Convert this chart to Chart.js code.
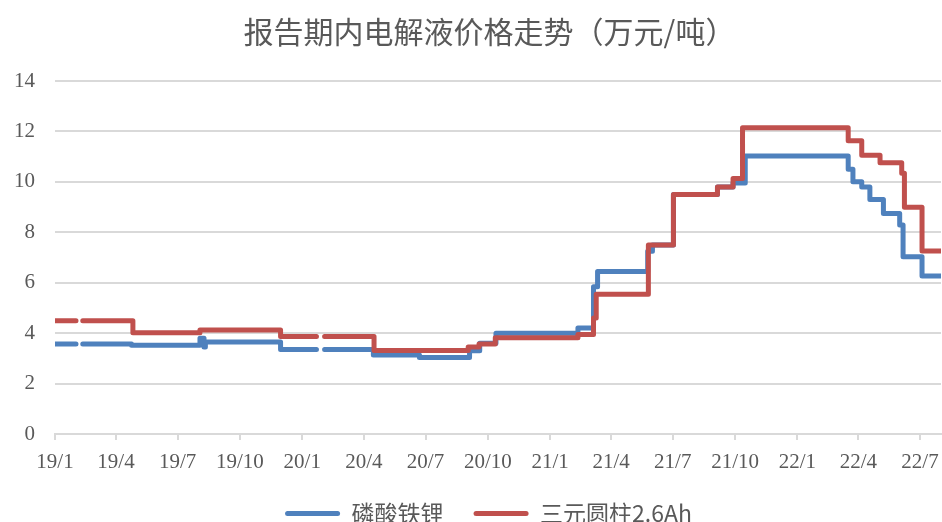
<!DOCTYPE html>
<html>
<head>
<meta charset="utf-8">
<script src="https://cdn.jsdelivr.net/npm/chart.js@4.4.1/dist/chart.umd.min.js"></script>
<style>
  html, body { margin: 0; padding: 0; background: #ffffff; }
  #wrap { width: 942px; height: 522px; position: relative; }
</style>
</head>
<body>
<div id="wrap"><canvas id="c" width="942" height="522"></canvas></div>
<script>
// ---- data ----
const chartTitle = '报告期内电解液价格走势（万元/吨）';
const seriesNames = ['磷酸铁锂', '三元圆柱2.6Ah'];

const tickDates = ['2019-01-01','2019-04-01','2019-07-01','2019-10-01','2020-01-01','2020-04-01','2020-07-01','2020-10-01','2021-01-01','2021-04-01','2021-07-01','2021-10-01','2022-01-01','2022-04-01','2022-07-01'];
const tickLabels = ['19/1','19/4','19/7','19/10','20/1','20/4','20/7','20/10','21/1','21/4','21/7','21/10','22/1','22/4','22/7'];
const axisStart = '2019-01-01';
const axisEnd = '2022-08-01';

// 磷酸铁锂: price change dates and new values (null = missing data / gap)
const lfpDates = ['2019-01-01','2019-02-01','2019-02-06','2019-02-11','2019-04-24','2019-08-03','2019-08-09','2019-08-11','2019-11-30','2020-01-22','2020-01-28','2020-02-03','2020-04-15','2020-06-22','2020-09-04','2020-09-19','2020-10-13','2021-02-11','2021-03-06','2021-03-12','2021-05-25','2021-06-01','2021-07-02','2021-09-05','2021-09-28','2021-10-16','2022-03-17','2022-03-24','2022-04-06','2022-04-18','2022-05-08','2022-06-01','2022-06-06','2022-07-04','2022-08-01'];
const lfpValues = [3.57, 3.57, null, 3.57, 3.52, 3.8, 3.45, 3.65, 3.35, 3.35, null, 3.35, 3.13, 3.03, 3.3, 3.6, 4.0, 4.2, 5.84, 6.44, 7.25, 7.5, 9.5, 9.8, 9.95, 11.03, 10.5, 10.0, 9.8, 9.3, 8.75, 8.29, 7.03, 6.27, 6.27];

// 三元圆柱2.6Ah
const nmcDates = ['2019-01-01','2019-02-01','2019-02-06','2019-02-11','2019-04-26','2019-08-03','2019-11-30','2020-01-22','2020-01-28','2020-02-03','2020-04-16','2020-09-02','2020-09-18','2020-10-12','2021-02-11','2021-03-06','2021-03-10','2021-05-26','2021-07-02','2021-09-05','2021-09-28','2021-10-12','2022-03-17','2022-04-06','2022-05-03','2022-06-04','2022-06-08','2022-07-04','2022-08-01'];
const nmcValues = [4.49, 4.49, null, 4.49, 4.02, 4.12, 3.87, 3.87, null, 3.87, 3.31, 3.45, 3.57, 3.82, 3.95, 4.6, 5.54, 7.5, 9.5, 9.8, 10.13, 12.15, 11.63, 11.06, 10.76, 10.34, 8.99, 7.26, 7.26];

const yMin = 0, yMax = 14, yStep = 2;

// ---- helpers ----
function dayOf(s) {
  const [y, m, d] = s.split('-').map(Number);
  const [y0, m0, d0] = axisStart.split('-').map(Number);
  return Math.round((Date.UTC(y, m - 1, d) - Date.UTC(y0, m0 - 1, d0)) / 86400000);
}
function toPoints(dates, values) {
  return dates.map((d, i) => ({ x: dayOf(d), y: values[i] }));
}
const tickDays = tickDates.map(dayOf);

const BLUE = '#4F81BD';
const RED = '#C0504D';
const GRID = '#d9d9d9';
const TEXT = '#595959';
const FONT = "'Liberation Serif', 'Noto Sans CJK SC', serif";

Chart.defaults.font.family = FONT;
Chart.defaults.color = TEXT;

// nudge title and legend blocks horizontally to match the reference placement
const shiftBlocks = {
  id: 'shiftBlocks',
  afterLayout(chart) {
    if (chart.titleBlock) { chart.titleBlock.left += 19; chart.titleBlock.right += 19; }
    if (chart.legend) { chart.legend.left += 18; chart.legend.right += 18; }
  }
};

new Chart(document.getElementById('c'), {
  type: 'line',
  plugins: [shiftBlocks],
  data: {
    datasets: [
      {
        label: seriesNames[0],
        data: toPoints(lfpDates, lfpValues),
        borderColor: BLUE,
        backgroundColor: BLUE,
        borderWidth: 5,
        stepped: 'before',
        pointRadius: 0,
        spanGaps: false,
        borderCapStyle: 'round',
        borderJoinStyle: 'round',
        order: 1
      },
      {
        label: seriesNames[1],
        data: toPoints(nmcDates, nmcValues),
        borderColor: RED,
        backgroundColor: RED,
        borderWidth: 5,
        stepped: 'before',
        pointRadius: 0,
        spanGaps: false,
        borderCapStyle: 'round',
        borderJoinStyle: 'round',
        order: 0
      }
    ]
  },
  options: {
    responsive: false,
    animation: false,
    devicePixelRatio: 1,
    layout: { padding: { left: 0, right: 1, top: 0, bottom: -13 } },
    plugins: {
      tooltip: { enabled: false },
      title: {
        display: true,
        text: chartTitle,
        color: TEXT,
        font: { size: 30, weight: 'normal', family: "'Noto Sans CJK SC', sans-serif", lineHeight: 1.2 },
        padding: { top: 14, bottom: 31 }
      },
      legend: {
        display: true,
        position: 'bottom',
        labels: {
          boxWidth: 55,
          boxHeight: 5,
          useBorderRadius: true,
          borderRadius: 2.5,
          padding: 30,
          color: TEXT,
          font: { size: 23, family: "'Noto Sans CJK SC', 'Liberation Serif', sans-serif" },
          sort: (a, b) => a.datasetIndex - b.datasetIndex,
          generateLabels: (chart) => Chart.defaults.plugins.legend.labels.generateLabels(chart).map(l => Object.assign(l, { lineWidth: 0, strokeStyle: l.fillStyle }))
        }
      }
    },
    scales: {
      x: {
        type: 'linear',
        min: dayOf(axisStart),
        max: dayOf(axisEnd),
        afterBuildTicks: (scale) => { scale.ticks = tickDays.map(v => ({ value: v })); },
        afterFit: (scale) => { scale.height = 38; scale.paddingLeft = 0; scale.paddingRight = 0; },
        ticks: {
          autoSkip: false,
          maxRotation: 0,
          padding: 10,
          color: TEXT,
          font: { size: 21 },
          callback: (v) => { const i = tickDays.indexOf(v); return i >= 0 ? tickLabels[i] : ''; }
        },
        grid: { drawOnChartArea: false, drawTicks: true, tickLength: 6, color: GRID, lineWidth: 2 },
        border: { display: true, color: GRID, width: 2 }
      },
      y: {
        min: yMin,
        max: yMax,
        afterFit: (scale) => { scale.width = 55; },
        ticks: { stepSize: yStep, padding: 20, color: TEXT, font: { size: 21 } },
        grid: { color: GRID, lineWidth: 2, drawTicks: false },
        border: { display: false }
      }
    }
  }
});
</script>
</body>
</html>
